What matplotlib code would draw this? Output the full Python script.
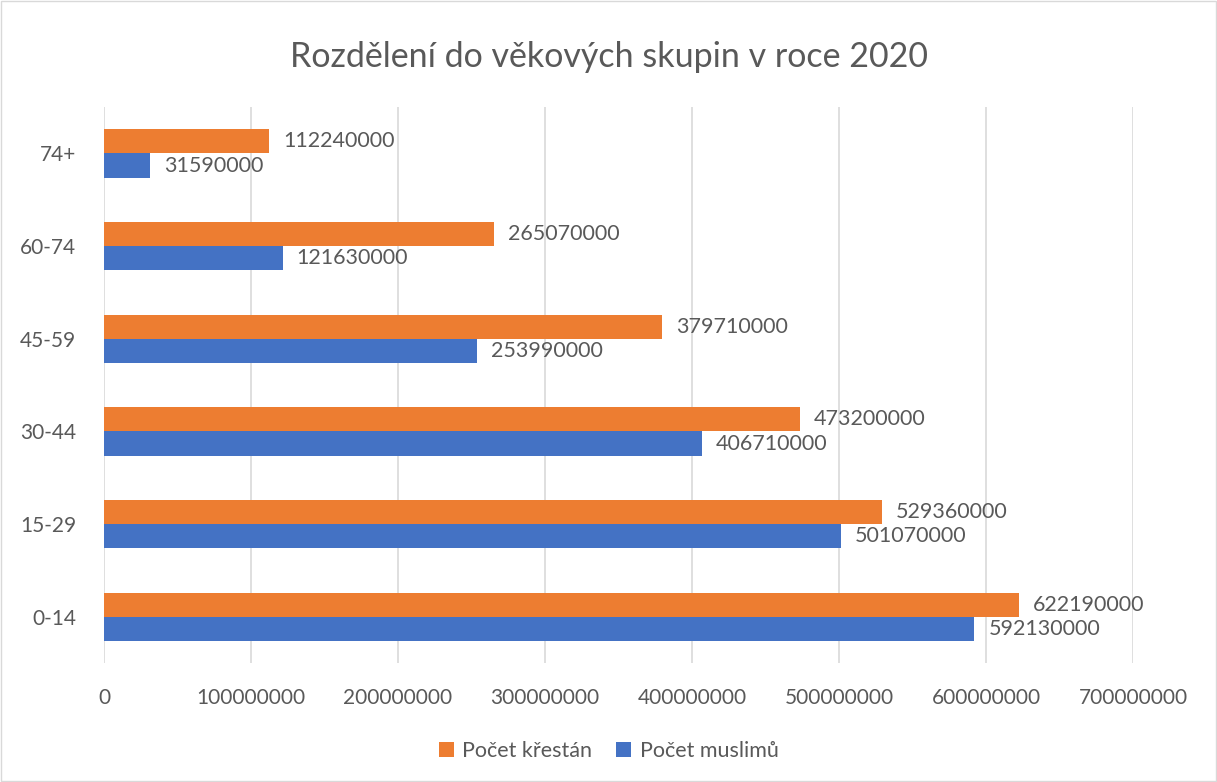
import matplotlib.pyplot as plt
from matplotlib.patches import Rectangle
import numpy as np

plt.rcParams['font.family'] = ['Lato', 'DejaVu Sans']

groups = ["0-14", "15-29", "30-44", "45-59", "60-74", "74+"]
muslims = [592130000, 501070000, 406710000, 253990000, 121630000, 31590000]
christians = [622190000, 529360000, 473200000, 379710000, 265070000, 112240000]

gray = "#595959"
orange = "#ED7D31"
blue = "#4472C4"

fig = plt.figure(figsize=(12.17, 7.82), dpi=100)
ax = fig.add_axes([0.0855, 0.152, 0.8455, 0.711])

y = np.arange(len(groups))
h = 0.26
b1 = ax.barh(y - h / 2, muslims, height=h, color=blue, label="Počet muslimů", zorder=3)
b2 = ax.barh(y + h / 2, christians, height=h, color=orange, label="Počet křestán", zorder=3)

for bars, vals in ((b1, muslims), (b2, christians)):
    for bar, v in zip(bars, vals):
        ax.annotate(str(v), (v, bar.get_y() + bar.get_height() / 2),
                    xytext=(10, 0), textcoords="offset points",
                    va="center", ha="left", fontsize=15.5, color=gray)

ax.set_xlim(0, 700000000)
ax.set_ylim(-0.5, 5.5)
ax.set_xticks(np.arange(0, 700000001, 100000000))
ax.set_xticklabels([str(int(t)) for t in np.arange(0, 700000001, 100000000)])
ax.set_yticks(y)
ax.set_yticklabels(groups)
ax.tick_params(axis="both", length=0, labelsize=15, labelcolor=gray)
ax.tick_params(axis="x", pad=18)
ax.tick_params(axis="y", pad=20)
ax.grid(axis="x", color="#D9D9D9", linewidth=1.2, zorder=0)
for s in ax.spines.values():
    s.set_visible(False)

fig.suptitle("Rozdělení do věkových skupin v roce 2020", y=0.948, fontsize=24.5, color=gray)

handles = [b2, b1]
leg = fig.legend(handles, [hh.get_label() for hh in handles], loc="center",
                 bbox_to_anchor=(0.5, 0.04), ncol=2, frameon=False, fontsize=15.5,
                 handlelength=0.7, handleheight=0.7, handletextpad=0.4, columnspacing=1.1)
for t in leg.get_texts():
    t.set_color(gray)

fig.patches.append(Rectangle((0.001, 0.001), 0.998, 0.998, transform=fig.transFigure,
                             fill=False, edgecolor="#D9D9D9", linewidth=1))

fig.savefig("out.png", dpi=100)
